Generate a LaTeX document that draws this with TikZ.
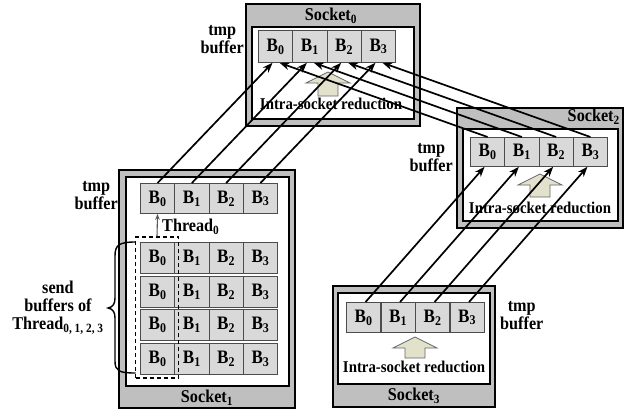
\documentclass[tikz,border=0pt]{standalone}
\usepackage{fontspec}
\setmainfont[FakeStretch=0.9]{Liberation Serif}
\usetikzlibrary{arrows.meta,calc}
\definecolor{sockgray}{HTML}{BFBFBF}
\definecolor{cellgray}{HTML}{D9D9D9}
\definecolor{beige}{HTML}{E2E2CC}
\newcommand\upblk[3]{%
  \draw[blk] (#1,#2) -- (#1+22,#2+11) -- (#1+10,#2+11) -- (#1+10,#3)
    -- (#1-10,#3) -- (#1-10,#2+11) -- (#1-22,#2+11) -- cycle;}
\tikzset{
  socket/.style={draw=black, line width=1.4pt, fill=sockgray},
  innerbox/.style={draw=black, line width=2pt, fill=white},
  cell/.style={draw=black!70, line width=0.8pt, fill=cellgray, minimum width=34.3pt,
    minimum height=30pt, inner sep=0pt, anchor=north west,
    font=\bfseries\fontsize{19}{20}\selectfont},
  lbl/.style={inner sep=0pt, align=center, font=\bfseries\fontsize{18}{18}\selectfont},
  intra/.style={inner sep=0pt, font=\bfseries\fontsize{16.5}{18}\selectfont},
  conn/.style={line width=1.7pt, -{Stealth[length=10pt,width=7.5pt,inset=3pt]}},
  blk/.style={draw=black!60, line width=0.8pt, fill=beige},
  thr/.style={draw=black!65, line width=1.1pt, -{Stealth[length=6pt,width=4.5pt]}},
  dbox/.style={draw=black, dash pattern=on 4pt off 3pt, line width=1.4pt,
    minimum width=43pt, minimum height=141pt, inner sep=0pt},
  bracepath/.style={draw=black, line width=1.4pt},
}
\begin{document}
\begin{tikzpicture}[x=1pt,y=-1pt]
\useasboundingbox (0,0) rectangle (642,410);

% ---------- Socket0 ----------
\draw[socket] (246,4) rectangle (420,126);
\draw[innerbox] (252,27) rectangle (414,119);
\node[lbl] (s0name) at (331,16) {Socket\textsubscript{0}};
\foreach \i in {0,...,3}
  \node[cell, minimum height=32pt] (s0c\i) at ({258+34.3*\i},30) {B\textsubscript{\i}};
\upblk{328}{72}{96}
\node[intra] (s0red) at (331,104) {Intra-socket reduction};
\node[lbl, anchor=east] (s0tmp) at (244,40) {tmp\\buffer};

% ---------- Socket2 ----------
\draw[socket] (457,108) rectangle (623,228);
\draw[innerbox] (463,129) rectangle (618,221);
\node[lbl, anchor=east] (s2name) at (620,117) {Socket\textsubscript{2}};
\foreach \i in {0,...,3}
  \node[cell, minimum height=29pt] (s2c\i) at ({470+34.3*\i},137) {B\textsubscript{\i}};
\upblk{540}{174}{197}
\node[intra] (s2red) at (540,208) {Intra-socket reduction};
\node[lbl, anchor=east] (s2tmp) at (453,158) {tmp\\buffer};

% ---------- Socket1 ----------
\draw[socket] (119,170) rectangle (295,408);
\draw[innerbox] (126,177) rectangle (289,386);
\node[lbl] (s1name) at (207,398) {Socket\textsubscript{1}};
\foreach \i in {0,...,3}
  \node[cell] (s1t\i) at ({140+34.3*\i},183) {B\textsubscript{\i}};
\foreach \r/\y in {0/242,1/276,2/309,3/343}
  \foreach \i in {0,...,3}
    \node[cell, minimum height=31pt] (s1r\r c\i) at ({140+34.3*\i},\y) {B\textsubscript{\i}};
\node[dbox] (dbx) at (157,307.5) {};
\draw[thr] (dbx.north) -- (s1t0.south);
\node[lbl, anchor=west] (thr0) at (162,227) {Thread\textsubscript{0}};
\node[lbl, anchor=east] (s1tmp) at (118,196) {tmp\\buffer};
\draw[bracepath] (135.5,242) .. controls (119,242) and (115,245) .. (115,256)
  -- (115,298) .. controls (115,304) and (113,307) .. (108,308)
  .. controls (113,309) and (115,312) .. (115,318)
  -- (115,361) .. controls (115,371) and (119,373) .. (135.5,373);
\node[lbl] (sendlbl) at (58,308) {send\\buffers of\\Thread\textsubscript{0, 1, 2, 3}};

% ---------- Socket3 ----------
\draw[socket] (333,286) rectangle (495,407);
\draw[innerbox] (338,293) rectangle (490,384);
\node[lbl] (s3name) at (414,396) {Socket\textsubscript{3}};
\foreach \i in {0,...,3}
  \node[cell] (s3c\i) at ({346+34.5*\i},302) {B\textsubscript{\i}};
\upblk{415}{337}{358}
\node[intra] (s3red) at (414,367) {Intra-socket reduction};
\node[lbl, anchor=west] (s3tmp) at (500,316) {tmp\\buffer};

% ---------- connectors ----------
\foreach \i in {0,...,3} {
  \draw[conn] (s1t\i.north) -- ([xshift=-3pt]s0c\i.south);
  \draw[conn] (s2c\i.north) -- ([xshift=4pt]s0c\i.south);
  \draw[conn] ([xshift=2pt]s3c\i.north) -- ([xshift=-3pt]s2c\i.south);
}
\end{tikzpicture}
\end{document}
